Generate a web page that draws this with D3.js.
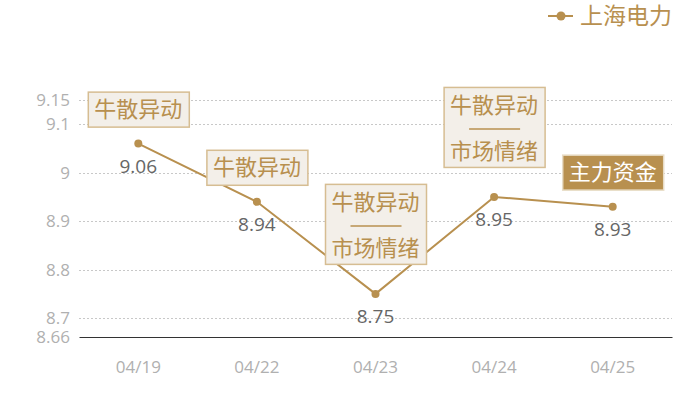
<!DOCTYPE html>
<html>
<head>
<meta charset="utf-8">
<script src="https://cdn.jsdelivr.net/npm/d3@7"></script>
<style>
  body { margin: 0; background: #fff; }
  svg { display: block; }
  text { font-family: "Open Sans", "Noto Sans CJK SC", sans-serif; }
</style>
</head>
<body>
<div id="chart"></div>
<script>
// data
var dates = ['04/19', '04/22', '04/23', '04/24', '04/25'];
var prices = [9.06, 8.94, 8.75, 8.95, 8.93];
var yTicks = [8.66, 8.7, 8.8, 8.9, 9, 9.1, 9.15];
// annotation per day: list of lines, and whether it is the filled kind
var notes = [['牛散异动'], ['牛散异动'], ['牛散异动', '市场情绪'], ['牛散异动', '市场情绪'], ['主力资金']];
var noteFilled = [false, false, false, false, true];
var seriesName = '上海电力';

var w = 700, h = 400;
var gold = '#b8904f';
var cjk = '"Noto Sans CJK SC", sans-serif';

var svg = d3.select('#chart').append('svg')
  .attr('width', w)
  .attr('height', h);

var x = d3.scaleBand()
  .domain(dates)
  .range([79, 672]);

var y = d3.scaleLinear()
  .domain([8.66, 9.15])
  .range([337.5, 100]);

// grid lines
svg.selectAll('.grid')
  .data(yTicks.filter(function(d){ return d !== 8.66; }))
  .enter()
  .append('line')
  .attr('x1', 79)
  .attr('x2', 672)
  .attr('y1', function(d){ return Math.round(y(d)) + 0.5; })
  .attr('y2', function(d){ return Math.round(y(d)) + 0.5; })
  .attr('stroke', '#c8c8c8')
  .attr('stroke-dasharray', '2,2');

// y tick labels
svg.selectAll('.ylab')
  .data(yTicks)
  .enter()
  .append('text')
  .attr('x', 70)
  .attr('y', function(d){ return y(d); })
  .attr('dy', '0.35em')
  .attr('text-anchor', 'end')
  .attr('fill', '#b0b0b0')
  .attr('font-size', '17px')
  .text(function(d){ return d; });

// x axis
var xAxis = svg.append('g')
  .attr('transform', 'translate(0,' + Math.floor(y(8.66)) + ')')
  .call(d3.axisBottom(x).tickSize(0).tickPadding(24));
xAxis.select('.domain').attr('stroke', '#333').attr('stroke-width', 1);
xAxis.selectAll('text')
  .attr('fill', '#b0b0b0')
  .attr('font-size', '17px')
  .attr('font-family', '"Open Sans", sans-serif');

function cx(i){ return x(dates[i]) + x.bandwidth() / 2; }

// line
var line = d3.line()
  .x(function(d, i){ return cx(i); })
  .y(function(d){ return y(d); });

svg.append('path')
  .datum(prices)
  .attr('d', line)
  .attr('fill', 'none')
  .attr('stroke', gold)
  .attr('stroke-width', 2);

svg.selectAll('.dot')
  .data(prices)
  .enter()
  .append('circle')
  .attr('cx', function(d, i){ return cx(i); })
  .attr('cy', function(d){ return y(d); })
  .attr('r', 4)
  .attr('fill', gold);

// value labels
svg.selectAll('.val')
  .data(prices)
  .enter()
  .append('text')
  .attr('x', function(d, i){ return cx(i); })
  .attr('y', function(d){ return y(d) + 29; })
  .attr('text-anchor', 'middle')
  .attr('fill', '#666')
  .attr('font-size', '19px')
  .text(function(d){ return d; });

// annotation boxes
var boxW = 101;
notes.forEach(function(lines, i){
  var two = lines.length > 1;
  var bh = two ? 80 : 35;
  var bottom = y(prices[i]) - (two ? 30 : 17);
  var top = bottom - bh;
  var left = cx(i) - boxW / 2;
  var g = svg.append('g');
  g.append('rect')
    .attr('x', left + 0.5)
    .attr('y', top + 0.5)
    .attr('width', boxW)
    .attr('height', bh)
    .attr('fill', noteFilled[i] ? gold : '#f3efe9')
    .attr('stroke', noteFilled[i] ? '#e8dcc6' : '#d6bd92')
    .attr('stroke-width', 1.5);
  var color = noteFilled[i] ? '#fff' : gold;
  if (two) {
    g.append('text')
      .attr('x', cx(i)).attr('y', top + 18).attr('dy', '0.36em')
      .attr('text-anchor', 'middle').attr('fill', color)
      .attr('font-size', '22px').attr('font-family', cjk)
      .text(lines[0]);
    g.append('line')
      .attr('x1', cx(i) - 25).attr('x2', cx(i) + 26)
      .attr('y1', top + 42).attr('y2', top + 42)
      .attr('stroke', color).attr('stroke-width', 1.5);
    g.append('text')
      .attr('x', cx(i)).attr('y', top + 64).attr('dy', '0.36em')
      .attr('text-anchor', 'middle').attr('fill', color)
      .attr('font-size', '22px').attr('font-family', cjk)
      .text(lines[1]);
  } else {
    g.append('text')
      .attr('x', cx(i)).attr('y', top + bh / 2).attr('dy', '0.36em')
      .attr('text-anchor', 'middle').attr('fill', color)
      .attr('font-size', '22px').attr('font-family', cjk)
      .text(lines[0]);
  }
});

// legend
var lg = svg.append('g');
lg.append('line')
  .attr('x1', 548).attr('x2', 573)
  .attr('y1', 16).attr('y2', 16)
  .attr('stroke', gold).attr('stroke-width', 2);
lg.append('circle')
  .attr('cx', 561).attr('cy', 16).attr('r', 4.5)
  .attr('fill', gold);
lg.append('text')
  .attr('x', 580).attr('y', 16).attr('dy', '0.36em')
  .attr('fill', gold)
  .attr('font-size', '23px')
  .attr('font-family', cjk)
  .text(seriesName);
</script>
</body>
</html>
